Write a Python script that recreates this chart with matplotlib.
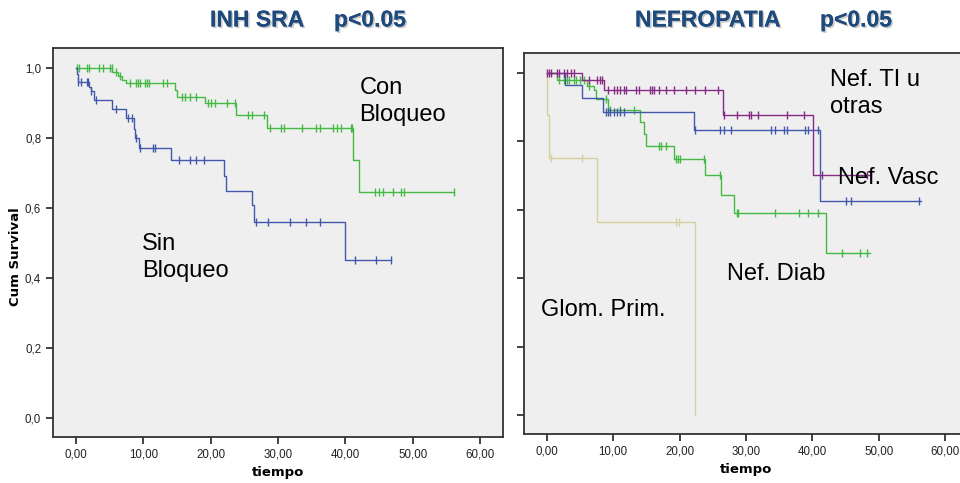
import numpy as np
import matplotlib
matplotlib.use('Agg')
import matplotlib.pyplot as plt
import matplotlib.patheffects as pe

plt.rcParams['font.family'] = ['Liberation Sans', 'DejaVu Sans']

# ---- INH SRA (left) ----
con_drops = [5.4, 6.3, 6.8, 7.4, 14.7, 15.0, 19.1, 23.8, 28.3, 41.1, 42.0]
con_surv = [0.988, 0.976, 0.966, 0.956, 0.937, 0.918, 0.899, 0.866, 0.828, 0.737, 0.644]
con_end = 56.1
con_cens = [0.1, 0.5, 1.6, 1.9, 3.5, 4.0, 5.0, 5.3, 6.0, 6.6, 8.0, 8.9, 9.2, 9.5, 10.2, 10.6,
            10.9, 13.0, 13.5, 15.8, 16.2, 16.9, 17.9, 19.6, 20.0, 20.6, 22.4, 23.6, 25.6,
            26.1, 27.9, 28.8, 30.5, 30.9, 33.6, 35.7, 36.2, 38.2, 38.7, 39.3, 40.9, 41.0,
            44.4, 45.0, 45.6, 47.1, 48.3, 48.7, 56.1]

sin_drops = [0.1, 0.3, 1.9, 2.2, 2.7, 5.3, 7.5, 8.6, 8.8, 9.3, 14.1, 22.0, 22.3, 26.2, 26.5, 40.0]
sin_surv = [0.983, 0.959, 0.946, 0.933, 0.909, 0.882, 0.856, 0.826, 0.799, 0.77, 0.737,
            0.691, 0.649, 0.609, 0.561, 0.451]
sin_end = 46.8
sin_cens = [0.35, 0.7, 1.6, 1.8, 2.3, 3.0, 5.9, 7.8, 8.3, 8.9, 9.5, 11.5, 11.7, 15.3, 16.9,
            17.9, 19.0, 26.7, 28.5, 31.8, 34.2, 36.3, 41.4, 44.5, 46.7]

# ---- NEFROPATIA (right) ----
ti_drops = [5.4, 8.6, 26.5, 40.1]
ti_surv = [0.977, 0.948, 0.877, 0.70]
ti_end = 48.5
ti_cens = [0.0, 0.35, 0.7, 1.6, 1.85, 2.6, 3.1, 3.6, 4.1, 6.4, 7.6, 8.0, 8.4, 9.2, 10.1, 10.6,
           11.1, 11.6, 11.9, 13.4, 13.9, 15.6, 15.9, 16.1, 16.9, 18.0, 19.1, 20.9, 22.4, 23.9,
           25.8, 26.7, 28.7, 30.4, 30.8, 31.8, 36.2, 38.7, 41.4, 48.2]

vasc_drops = [2.75, 5.3, 8.5, 22.2, 41.2]
vasc_surv = [0.965, 0.925, 0.886, 0.833, 0.624]
vasc_end = 56.4
vasc_cens = [8.9, 9.2, 9.6, 10.1, 10.6, 11.1, 11.6, 22.3, 26.1, 26.7, 27.8, 33.8, 34.3, 35.7,
             36.2, 38.9, 39.3, 40.9, 45.1, 45.8, 56.0]

diab_drops = [1.6, 6.1, 7.1, 7.4, 9.2, 14.0, 14.7, 15.0, 19.1, 23.8, 26.2, 28.2, 42.0]
diab_surv = [0.979, 0.962, 0.95, 0.923, 0.891, 0.855, 0.821, 0.787, 0.748, 0.70, 0.644, 0.59, 0.474]
diab_end = 48.6
diab_cens = [1.85, 2.6, 3.1, 3.4, 4.1, 4.4, 5.1, 5.6, 6.4, 9.0, 9.6, 11.1, 13.1, 16.9, 17.2,
             17.9, 19.4, 19.7, 20.0, 23.7, 26.1, 28.7, 28.8, 34.3, 37.9, 39.3, 40.9, 44.5,
             47.2, 48.2]

glom_drops = [0.05, 0.35, 7.6, 22.3]
glom_surv = [0.875, 0.75, 0.563, 0.0]
glom_end = 22.3
glom_cens = [0.6, 5.3, 19.4, 19.9]

x_ticks = [0, 10, 20, 30, 40, 50, 60]
x_labels = ['0,00', '10,00', '20,00', '30,00', '40,00', '50,00', '60,00']
y_ticks = [0.0, 0.2, 0.4, 0.6, 0.8, 1.0]
y_labels = ['0,0', '0,2', '0,4', '0,6', '0,8', '1,0']

GREEN = '#45b845'
BLUE = '#4258aa'
PURPLE = '#862b86'
KHAKI = '#d6d09c'
TITLE_C = '#1f4a7c'


def km(ax, drops, surv, end, cens, color):
    xs = [0] + drops + [end]
    ys = [1.0] + surv + [surv[-1]]
    ax.step(xs, ys, where='post', color=color, lw=1.0)
    t = np.array(xs)
    s = np.array(ys)
    cy = [s[np.searchsorted(t, c, side='right') - 1] for c in cens]
    ax.plot(cens, cy, ls='none', marker='|', ms=6, mew=1.0, color=color)


def style(ax, ylabels=True):
    ax.set_facecolor('#efefef')
    ax.set_xlim(-3.4, 63.4)
    ax.set_ylim(-0.055, 1.057)
    ax.set_xticks(x_ticks)
    ax.set_xticklabels(x_labels)
    ax.set_yticks(y_ticks)
    if ylabels:
        ax.set_yticklabels(y_labels)
    else:
        ax.set_yticklabels([])
    ax.tick_params(direction='out', length=5, width=1.3, color='#333333',
                   labelsize=8.3, labelcolor='#222222')
    for sp in ax.spines.values():
        sp.set_color('#333333')
        sp.set_linewidth(1.3)
    ax.set_xlabel('tiempo', fontsize=9.5, fontweight='bold', family='DejaVu Sans', labelpad=4)


fig = plt.figure(figsize=(9.6, 4.83), dpi=100)
ax1 = fig.add_axes([53 / 960, 46 / 483, 450 / 960, 389 / 483])
ax2 = fig.add_axes([524 / 960, 49 / 483, 444 / 960, 381 / 483])

style(ax1)
style(ax2, ylabels=False)

km(ax1, con_drops, con_surv, con_end, con_cens, GREEN)
km(ax1, sin_drops, sin_surv, sin_end, sin_cens, BLUE)

km(ax2, glom_drops, glom_surv, glom_end, glom_cens, KHAKI)
km(ax2, diab_drops, diab_surv, diab_end, diab_cens, GREEN)
km(ax2, vasc_drops, vasc_surv, vasc_end, vasc_cens, BLUE)
km(ax2, ti_drops, ti_surv, ti_end, ti_cens, PURPLE)

lbl = dict(fontsize=17, color='black', va='center', ha='left', linespacing=1.28)
ax1.text(42.1, 0.905, 'Con\nBloqueo', **lbl)
ax1.text(9.8, 0.458, 'Sin\nBloqueo', **lbl)
ax2.text(42.7, 0.938, 'Nef. TI u\notras', **lbl)
ax2.text(43.9, 0.691, 'Nef. Vasc', **lbl)
ax2.text(27.1, 0.411, 'Nef. Diab', **lbl)
ax2.text(-0.9, 0.306, 'Glom. Prim.', **lbl)

fig.text(16 / 960, 1 - 257 / 483, 'Cum Survival', rotation=90, fontsize=9.5,
         fontweight='bold', family='DejaVu Sans', ha='center', va='center')

shadow = [pe.withSimplePatchShadow(offset=(1.2, -1.2), alpha=0.35, shadow_rgbFace='#666666'), pe.Normal()]
tkw = dict(fontsize=16.5, fontweight='bold', color=TITLE_C, va='center', ha='left',
           path_effects=shadow)
fig.text(210 / 960, 1 - 20 / 483, 'INH SRA', **tkw)
fig.text(334 / 960, 1 - 20 / 483, 'p<0.05', **tkw)
fig.text(635 / 960, 1 - 20 / 483, 'NEFROPATIA', **tkw)
fig.text(820 / 960, 1 - 20 / 483, 'p<0.05', **tkw)

fig.savefig('out.png', dpi=100, facecolor='white')
